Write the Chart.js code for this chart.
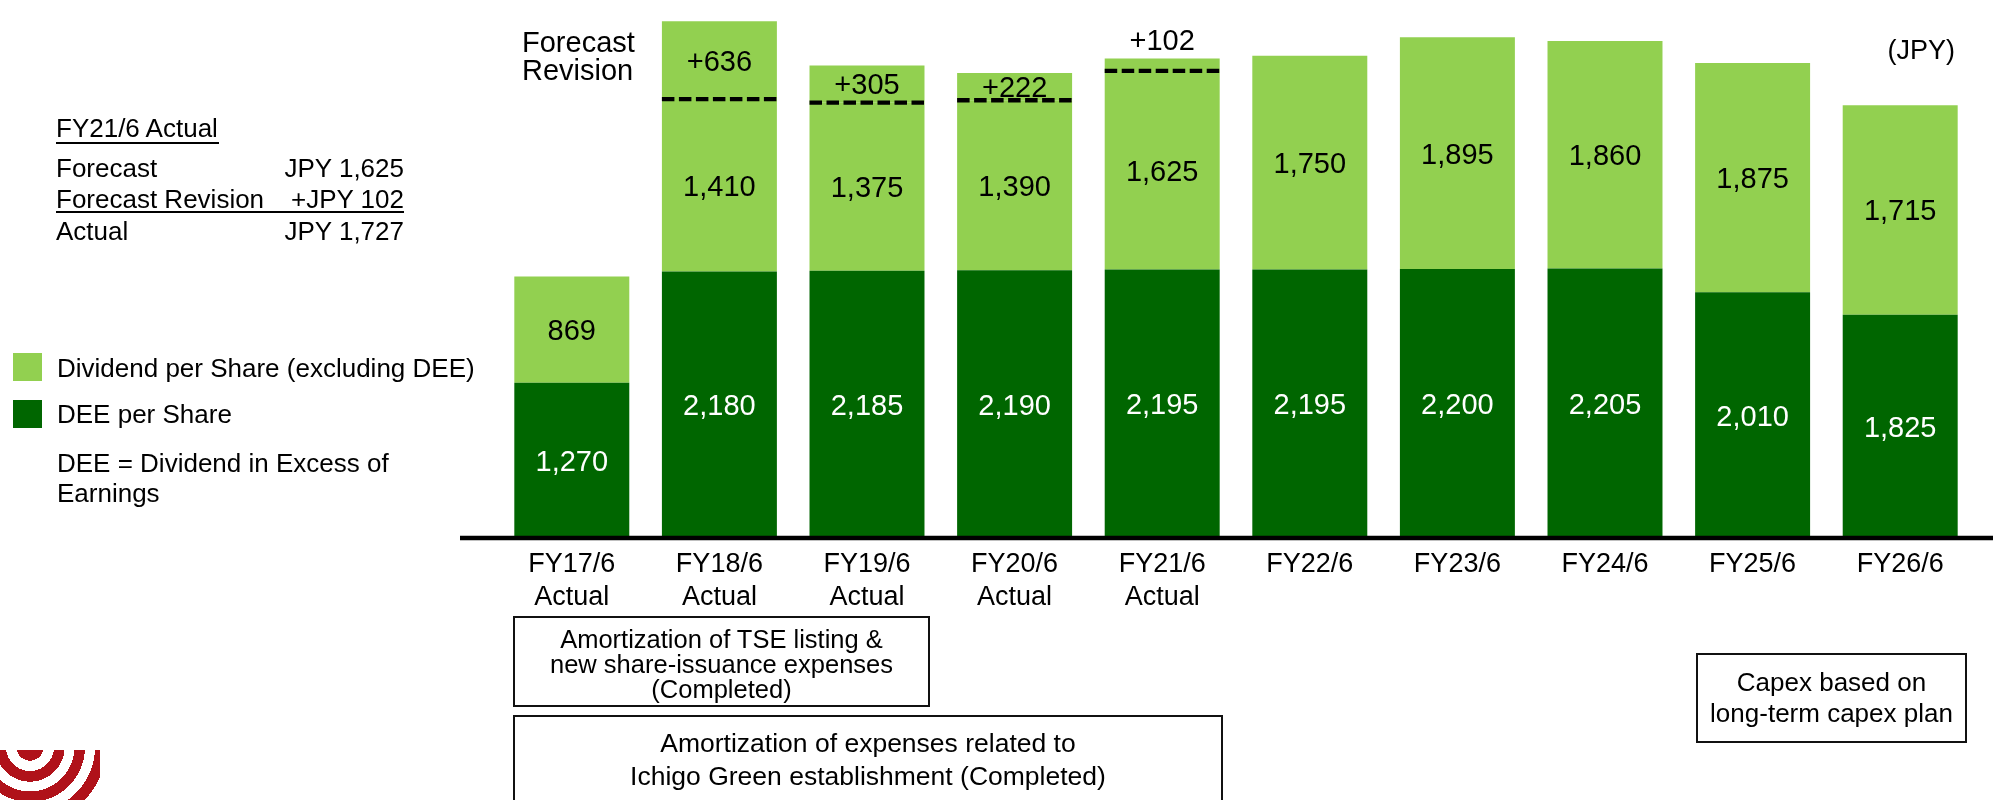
<!DOCTYPE html>
<html>
<head>
<meta charset="utf-8">
<script src="https://cdn.jsdelivr.net/npm/chart.js@4"></script>
<style>
  html, body { margin: 0; padding: 0; background: #fff; }
  body { width: 1993px; height: 800px; overflow: hidden; position: relative;
         font-family: "Liberation Sans", Arial, sans-serif; color: #000; }
  #c { position: absolute; left: 0; top: 0; }
  .abs { position: absolute; white-space: nowrap; }
  .rule { position: absolute; background: #000; height: 2px; }
  .swatch { position: absolute; width: 29px; height: 28px; }
  .box { position: absolute; box-sizing: border-box; border: 2px solid #111;
         text-align: center; white-space: nowrap; }
  .row { display: flex; justify-content: space-between; width: 348px; }
  #logo { position: absolute; left: 0; top: 750px; width: 100px; height: 50px;
          background: radial-gradient(circle at 30px -3px,
            #b0121a 0 13.6px, #fff 13.6px 24px, #b0121a 24px 34.6px, #fff 34.6px 44.5px,
            #b0121a 44.5px 55px, #fff 55px 65px, #b0121a 65px 76px, #fff 76px); }
</style>
</head>
<body>
<canvas id="c" width="1993" height="800"></canvas>

<!-- FY21/6 forecast vs actual -->
<div class="abs" style="left:56px;top:112.5px;font-size:26px;line-height:31.5px">FY21/6 Actual</div>
<div class="rule" style="left:56px;top:141.5px;width:163px"></div>
<div class="abs" style="left:56px;top:152.9px;font-size:26px;line-height:31.5px">
  <div class="row"><span>Forecast</span><span>JPY 1,625</span></div>
  <div class="row"><span>Forecast Revision</span><span>+JPY 102</span></div>
  <div class="row"><span>Actual</span><span>JPY 1,727</span></div>
</div>
<div class="rule" style="left:56px;top:210.7px;width:348px"></div>

<!-- legend -->
<div class="swatch" style="left:13px;top:353px;background:#92d050"></div>
<div class="abs" style="left:57px;top:352.7px;font-size:26px;line-height:30px">Dividend per Share (excluding DEE)</div>
<div class="swatch" style="left:13px;top:400px;background:#006600"></div>
<div class="abs" style="left:57px;top:399.3px;font-size:26px;line-height:30px">DEE per Share</div>
<div class="abs" style="left:57px;top:447.7px;font-size:26px;line-height:30px">DEE = Dividend in Excess of<br>Earnings</div>

<div id="logo"></div>

<!-- chart notes -->
<div class="abs" style="left:522px;top:27.5px;font-size:29px;line-height:28.3px">Forecast<br>Revision</div>
<div class="abs" style="right:38px;top:34.9px;font-size:27px;line-height:30px">(JPY)</div>

<div class="box" style="left:513px;top:616px;width:417px;height:91px;padding-top:8.7px;font-size:25.5px;line-height:25px">Amortization of TSE listing &amp;<br>new share-issuance expenses<br>(Completed)</div>
<div class="box" style="left:513px;top:715px;width:710px;height:100px;padding-top:10.3px;font-size:26.5px;line-height:33px">Amortization of expenses related to<br>Ichigo Green establishment (Completed)</div>
<div class="box" style="left:1696px;top:653px;width:271px;height:90px;padding-top:12.2px;font-size:26px;line-height:31px">Capex based on<br>long-term capex plan</div>

<script>
const categories = ["FY17/6", "FY18/6", "FY19/6", "FY20/6", "FY21/6", "FY22/6", "FY23/6", "FY24/6", "FY25/6", "FY26/6"];
const periodTags = ["Actual", "Actual", "Actual", "Actual", "Actual", "", "", "", "", ""];
const deePerShare = [1270, 2180, 2185, 2190, 2195, 2195, 2200, 2205, 2010, 1825];
const dividendExDee = [869, 1410, 1375, 1390, 1625, 1750, 1895, 1860, 1875, 1715];
const forecastRevision = [null, 636, 305, 222, 102, null, null, null, null, null];

const DARK = "#006600";
const LIGHT = "#92d050";
const FONT = '"Liberation Sans", Arial, sans-serif';
Chart.defaults.font.family = FONT;

const fmt = (v) => v.toLocaleString("en-US");

// labels in the segments, revision dashes and the base line
const segmentLabels = {
  id: "segmentLabels",
  afterDatasetsDraw(chart) {
    const { ctx } = chart;
    const y0 = chart.scales.y.getPixelForValue(0);
    ctx.save();

    // dashed line where the forecast ended
    ctx.strokeStyle = "#000";
    ctx.lineWidth = 4.3;
    ctx.setLineDash([12.5, 4.5]);
    chart.getDatasetMeta(2).data.forEach((bar, i) => {
      if (forecastRevision[i] == null) return;
      const p = bar.getProps(["x", "width", "base"], true);
      ctx.beginPath();
      ctx.moveTo(p.x - p.width / 2, p.base);
      ctx.lineTo(p.x + p.width / 2, p.base);
      ctx.stroke();
    });
    ctx.setLineDash([]);

    ctx.font = `29px ${FONT}`;
    ctx.textAlign = "center";
    ctx.textBaseline = "alphabetic";
    const sets = [
      { vals: deePerShare, color: "#fff", text: fmt },
      { vals: dividendExDee, color: "#000", text: fmt },
      { vals: forecastRevision, color: "#000", text: (v) => "+" + v }
    ];
    sets.forEach((s, di) => {
      chart.getDatasetMeta(di).data.forEach((bar, i) => {
        const v = s.vals[i];
        if (v == null) return;
        const p = bar.getProps(["x", "y", "base"], true);
        ctx.fillStyle = s.color;
        if (Math.abs(p.base - p.y) < 20) {
          ctx.fillText(s.text(v), p.x, p.y - 8); // too thin, put it on top
        } else {
          ctx.fillText(s.text(v), p.x, (p.y + p.base) / 2 + 10.4);
        }
      });
    });

    ctx.strokeStyle = "#000";
    ctx.lineWidth = 4.7;
    ctx.beginPath();
    ctx.moveTo(chart.chartArea.left - 38, y0);
    ctx.lineTo(chart.width, y0);
    ctx.stroke();
    ctx.restore();
  }
};

new Chart(document.getElementById("c"), {
  type: "bar",
  data: {
    labels: categories.map((c, i) => periodTags[i] ? [c, periodTags[i]] : c),
    datasets: [
      { label: "DEE per Share", data: deePerShare, backgroundColor: DARK, stack: "dps" },
      { label: "Dividend per Share (excluding DEE)", data: dividendExDee, backgroundColor: LIGHT, stack: "dps" },
      { label: "Forecast Revision", data: forecastRevision, backgroundColor: LIGHT, stack: "dps" }
    ]
  },
  options: {
    responsive: false,
    animation: false,
    events: [],
    barPercentage: 0.779,
    categoryPercentage: 1,
    layout: { padding: { left: 498, right: 19, top: 0, bottom: 0 } },
    plugins: { legend: { display: false }, tooltip: { enabled: false } },
    scales: {
      x: {
        stacked: true,
        grid: { display: false, drawTicks: false },
        border: { display: false },
        ticks: { color: "#000", padding: 10.6, maxRotation: 0, autoSkip: false,
                 font: { size: 27, lineHeight: 1.21 } },
        afterFit: (s) => { s.height = 262; }
      },
      y: { stacked: true, display: false, min: 0, max: 4400 }
    }
  },
  plugins: [segmentLabels]
});
</script>
</body>
</html>
